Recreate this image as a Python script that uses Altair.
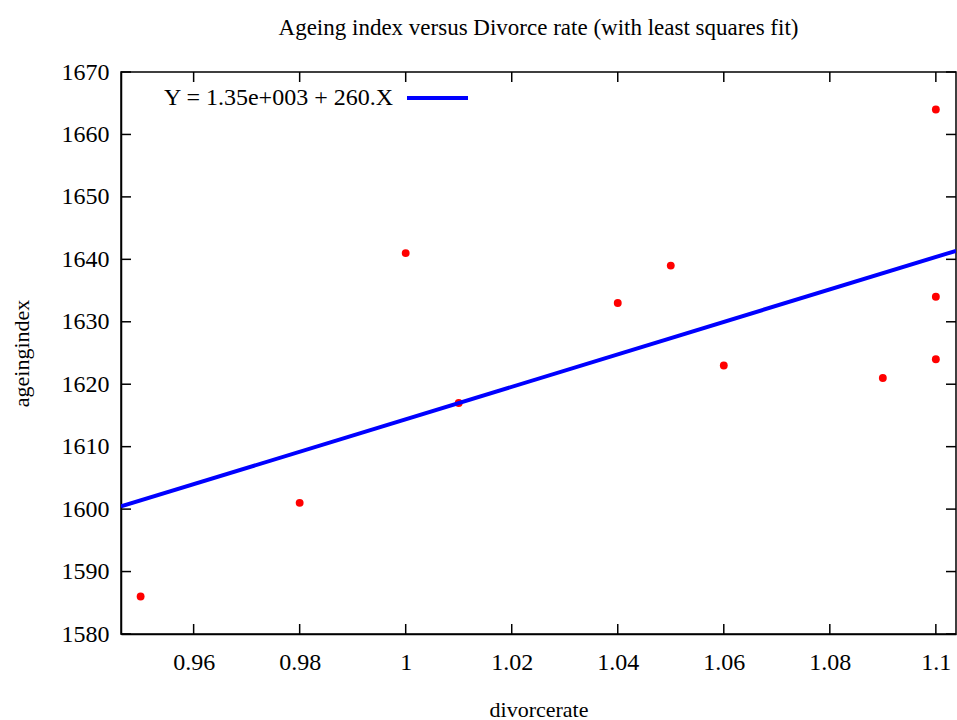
import altair as alt
import pandas as pd

# Observations: divorce rate vs ageing index
divorcerate = [0.95, 0.98, 1.00, 1.01, 1.04, 1.05, 1.06, 1.09, 1.10, 1.10, 1.10]
ageingindex = [1586, 1601, 1641, 1617, 1633, 1639, 1623, 1621, 1664, 1634, 1624]

x_ticks = [0.96, 0.98, 1.00, 1.02, 1.04, 1.06, 1.08, 1.10]
y_ticks = [1580, 1590, 1600, 1610, 1620, 1630, 1640, 1650, 1660, 1670]

x_domain = [0.9463, 1.1038]
y_domain = [1580, 1670]

title_text = "Ageing index versus Divorce rate (with least squares fit)"
fit_label = "Y = 1.35e+003 + 260.X"

W, H = 835, 562
FONT = "Liberation Serif"
TICK = 10

df = pd.DataFrame({"x": divorcerate, "y": ageingindex})
xt = pd.DataFrame({"v": x_ticks})
yt = pd.DataFrame({"v": y_ticks})

xs = alt.Scale(domain=x_domain, nice=False, zero=False)
ys = alt.Scale(domain=y_domain, nice=False, zero=False)

x_axis = alt.Axis(values=x_ticks, title="divorcerate", tickSize=0, labelPadding=16,
                  grid=False, labelFont=FONT, labelFontSize=24, titleFont=FONT,
                  titleFontSize=22, titleFontWeight="normal",
                  titleY=75, titleBaseline="middle", labelExpr="format(datum.value, '~g')")
y_axis = alt.Axis(values=y_ticks, title="ageingindex", tickSize=0, labelPadding=12,
                  grid=False, labelFont=FONT, labelFontSize=24, titleFont=FONT,
                  titleFontSize=22, titleFontWeight="normal", format="d",
                  titleX=-100, titleY=H / 2, titleBaseline="middle", titleAngle=-90)

points = alt.Chart(df).mark_point(filled=True, shape="circle", size=62, color="#ff0000", opacity=1).encode(
    x=alt.X("x:Q", scale=xs, axis=x_axis),
    y=alt.Y("y:Q", scale=ys, axis=y_axis),
)

# least squares line drawn over the data points
fit = alt.Chart(df).transform_regression("x", "y", extent=x_domain).mark_line(
    color="#0000ff", strokeWidth=4, clip=True
).encode(x=alt.X("x:Q", scale=xs), y=alt.Y("y:Q", scale=ys))

# inward ticks on all four sides of the frame
tick_bottom = alt.Chart(xt).mark_rule(color="black", strokeWidth=1.5).encode(
    x=alt.X("v:Q", scale=xs), y=alt.value(H), y2=alt.value(H - TICK))
tick_top = alt.Chart(xt).mark_rule(color="black", strokeWidth=1.5).encode(
    x=alt.X("v:Q", scale=xs), y=alt.value(0), y2=alt.value(TICK))
tick_left = alt.Chart(yt).mark_rule(color="black", strokeWidth=1.5).encode(
    y=alt.Y("v:Q", scale=ys), x=alt.value(0), x2=alt.value(TICK))
tick_right = alt.Chart(yt).mark_rule(color="black", strokeWidth=1.5).encode(
    y=alt.Y("v:Q", scale=ys), x=alt.value(W), x2=alt.value(W - TICK))

# key: label plus line sample
key_text = alt.Chart(pd.DataFrame({"t": [fit_label]})).mark_text(
    align="right", baseline="middle", font=FONT, fontSize=24, color="black"
).encode(text="t:N", x=alt.value(272), y=alt.value(26))
key_line = alt.Chart(pd.DataFrame({"t": [fit_label]})).mark_rule(
    color="#0000ff", strokeWidth=4
).encode(x=alt.value(286), x2=alt.value(347), y=alt.value(26))

# chart heading, centred over the plot frame
heading = alt.Chart(pd.DataFrame({"t": [title_text]})).mark_text(
    align="center", baseline="middle", font=FONT, fontSize=23, color="black"
).encode(text="t:N", x=alt.value(W / 2), y=alt.value(-44))

chart = alt.layer(
    points, fit, tick_bottom, tick_top, tick_left, tick_right, key_text, key_line, heading
).properties(
    width=W, height=H,
    autosize=alt.AutoSizeParams(type="none"),
    padding={"left": 121, "top": 72, "right": 1, "bottom": 86},
    background="white",
).configure_view(
    stroke="black", strokeWidth=1.5
).configure_axis(
    labelFont=FONT, titleFont=FONT, labelColor="black", titleColor="black",
    domainColor="black", domainWidth=1.5,
).configure_text(font=FONT)

chart.save("out.html", embed_options={"renderer": "svg", "actions": False})
